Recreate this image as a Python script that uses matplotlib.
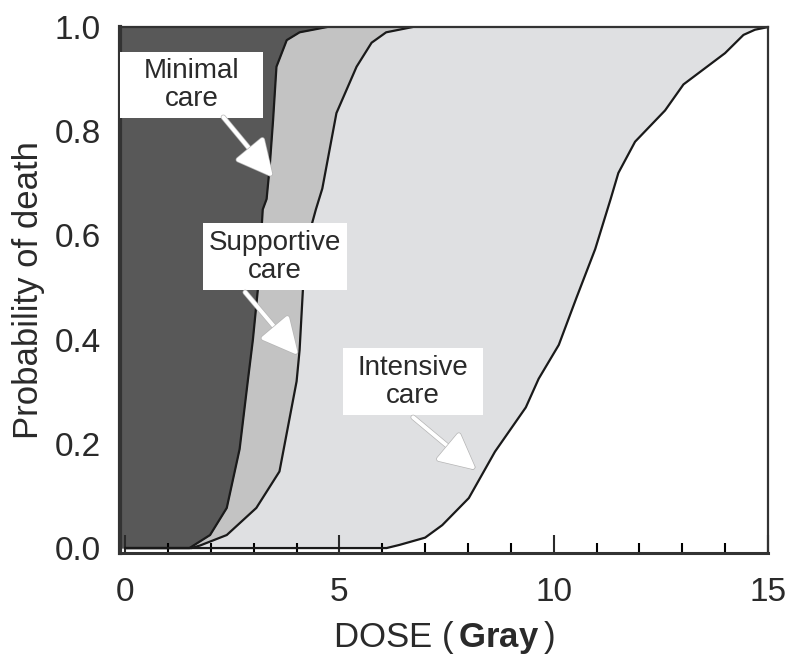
import matplotlib
matplotlib.use("Agg")
import matplotlib.pyplot as plt
import matplotlib.patheffects as pe
from matplotlib.patches import Rectangle
from matplotlib.ticker import MultipleLocator

plt.rcParams['font.family'] = ['Liberation Sans', 'DejaVu Sans']
plt.rcParams['mathtext.fontset'] = 'custom'
plt.rcParams['mathtext.rm'] = 'Liberation Sans'
plt.rcParams['mathtext.bf'] = 'Liberation Sans:bold'

# dose (Gy) / probability of death
minimal_dose = [0, 1.5, 1.98, 2.37, 2.67, 2.86, 2.98, 3.1, 3.21, 3.3, 3.37, 3.45, 3.53, 3.77, 4.07, 4.7]
minimal_prob = [0, 0, 0.025, 0.077, 0.19, 0.32, 0.4, 0.5, 0.65, 0.67, 0.73, 0.82, 0.924, 0.975, 0.99, 1.0]

supportive_dose = [0, 1.55, 1.75, 2.37, 3.06, 3.6, 4.0, 4.07, 4.15, 4.25, 4.45, 4.6, 4.93, 5.4, 5.75, 6.09, 6.7]
supportive_prob = [0, 0, 0.005, 0.025, 0.077, 0.147, 0.32, 0.38, 0.5, 0.59, 0.65, 0.69, 0.835, 0.924, 0.97, 0.99, 1.0]

intensive_dose = [0, 6.1, 6.4, 7.0, 7.4, 8.02, 8.63, 9.35, 9.65, 10.12, 10.53, 10.97, 11.33, 11.51,
                  11.9, 12.6, 13.03, 14.0, 14.43, 14.7, 15.0]
intensive_prob = [0, 0, 0.006, 0.02, 0.044, 0.096, 0.185, 0.27, 0.325, 0.39, 0.48, 0.574, 0.67, 0.72,
                  0.78, 0.84, 0.89, 0.95, 0.985, 0.995, 1.0]

labels = ['Minimal\ncare', 'Supportive\ncare', 'Intensive\ncare']
# box (x0, x1, y0, y1), arrow start, arrow tip
boxes = [(-0.12, 3.22, 0.825, 0.952), (1.82, 5.18, 0.495, 0.624), (5.09, 8.35, 0.255, 0.384)]
arrow_from = [(2.29, 0.827), (2.80, 0.491), (6.72, 0.251)]
arrow_to = [(3.45, 0.712), (4.04, 0.370), (8.19, 0.150)]

fig = plt.figure(figsize=(7.9, 6.61), dpi=100)
ax = fig.add_axes([0.152, 0.163, 0.820, 0.796])

x0 = -0.12
ax.fill_betweenx(intensive_prob, x0, intensive_dose, color='#dfe0e2', lw=0)
ax.fill_betweenx(supportive_prob, x0, supportive_dose, color='#c3c3c3', lw=0)
ax.fill_betweenx(minimal_prob, x0, minimal_dose, color='#585858', lw=0)
for d, p in [(intensive_dose, intensive_prob), (supportive_dose, supportive_prob), (minimal_dose, minimal_prob)]:
    ax.plot(d, p, color='#1a1a1a', lw=1.6)

for lab, b, s, t in zip(labels, boxes, arrow_from, arrow_to):
    ax.add_patch(Rectangle((b[0], b[2]), b[1] - b[0], b[3] - b[2], facecolor='white', edgecolor='none', zorder=4))
    ax.text((b[0] + b[1]) / 2, (b[2] + b[3]) / 2, lab, ha='center', va='center', fontsize=20,
            color='#2a2a2a', linespacing=1.1, zorder=5)
    ax.annotate('', xy=t, xytext=s, zorder=6,
                arrowprops=dict(arrowstyle='-|>,head_length=0.9,head_width=0.45', color='white', lw=2.8,
                                mutation_scale=25, shrinkA=0, shrinkB=0,
                                path_effects=[pe.withStroke(linewidth=3.8, foreground='#b5b5b5')]))

ax.set_xlim(x0, 15)
ax.set_ylim(-0.01, 1.0)
ax.xaxis.set_major_locator(MultipleLocator(5))
ax.xaxis.set_minor_locator(MultipleLocator(1))
ax.set_yticks([0, 0.2, 0.4, 0.6, 0.8, 1.0])
ax.set_yticklabels(['0.0', '0.2', '0.4', '0.6', '0.8', '1.0'])
ax.tick_params(axis='x', which='major', direction='in', length=13, width=1.5, pad=17,
               labelsize=24, colors='#2a2a2a')
ax.tick_params(axis='x', which='minor', direction='in', length=7, width=1.5)
ax.tick_params(axis='y', length=0, pad=14, labelsize=24, labelcolor='#2a2a2a')
ax.tick_params(axis='x', which='both', top=False)

for side, w in [('left', 3.0), ('bottom', 2.2), ('top', 1.6), ('right', 1.6)]:
    ax.spines[side].set_linewidth(w)
    ax.spines[side].set_color('#333333')

ax.set_ylabel('Probability of death', fontsize=25, color='#2a2a2a', labelpad=7)
ax.set_xlabel(r'DOSE ($\,\mathbf{Gray}\,$)', fontsize=25, color='#2a2a2a', labelpad=8)

fig.savefig('out.png', dpi=100)
